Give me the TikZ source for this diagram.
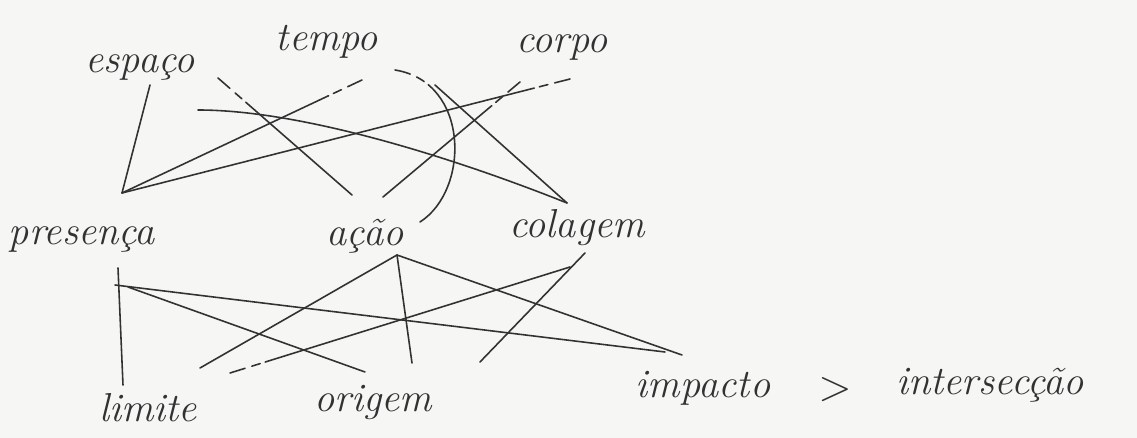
\documentclass[tikz,border=0pt]{standalone}
\usepackage{xcolor}
\usepackage{tikz}
\usetikzlibrary{calc}
\definecolor{paper}{RGB}{246,246,245}
\definecolor{ink}{RGB}{50,50,50}

\begin{document}
\begin{tikzpicture}[x=0.02cm, y=-0.02cm,
    word/.style={font=\fontsize{23}{27}\selectfont\itshape, text=ink, inner sep=0pt},
    pen/.style={ink, line width=0.9pt, line cap=round},
    pendash/.style={dash pattern=on 9pt off 4pt on 5pt off 3pt on 400pt}]
  \fill[paper] (0,0) rectangle (1137,438);
  \useasboundingbox (0,0) rectangle (1137,438);
  \node[word] (espaco)   at (140,68)  {espaço};
  \node[word] (tempo)    at (327,42)  {tempo};
  \node[word] (corpo)    at (562,48)  {corpo};
  \node[word] (presenca) at (82,240)  {presença};
  \node[word] (acao)     at (365,236) {ação};
  \node[word] (colagem)  at (577,228) {colagem};
  \node[word] (limite)   at (148,408) {limite};
  \node[word] (origem)   at (373,402) {origem};
  \node[word] (impacto)  at (703,388) {impacto};
  \node[word] (maior)    at (835,390) {$>$};
  \node[word] (intersec) at (990,385) {intersecção};
  \draw[pen] ($(espaco)+(10,17)$) -- ($(presenca)+(40,-47)$);
  \draw[pen, pendash] ($(espaco)+(78,10)$) -- ($(acao)+(-13,-41)$);
  \draw[pen] ($(espaco)+(58,42)$) .. controls +(110,0) and +(-100,-40) .. ($(colagem)+(-10,-25)$);
  \draw[pen, pendash] ($(tempo)+(35,38)$) -- ($(presenca)+(40,-47)$);
  \draw[pen, pendash] ($(tempo)+(68,28)$) .. controls +(75,12) and +(50,-32) .. ($(acao)+(55,-14)$);
  \draw[pen] ($(tempo)+(108,43)$) -- ($(colagem)+(-10,-25)$);
  \draw[pen, pendash] ($(corpo)+(8,31)$) -- ($(presenca)+(40,-47)$);
  \draw[pen, pendash] ($(corpo)+(-42,34)$) -- ($(acao)+(18,-39)$);
  \draw[pen] ($(presenca)+(36,28)$) -- ($(limite)+(-25,-23)$);
  \draw[pen] ($(presenca)+(33,45)$) -- ($(impacto)+(-38,-36)$);
  \draw[pen] ($(presenca)+(46,47)$) -- ($(origem)+(-8,-30)$);
  \draw[pen] ($(acao)+(32,19)$) -- ($(limite)+(52,-40)$);
  \draw[pen] ($(acao)+(32,19)$) -- ($(origem)+(39,-39)$);
  \draw[pen] ($(acao)+(32,19)$) -- ($(impacto)+(-21,-33)$);
  \draw[pen, pendash] ($(limite)+(82,-35)$) -- ($(colagem)+(-7,39)$);
  \draw[pen] ($(colagem)+(8,25)$) -- ($(origem)+(107,-40)$);
\end{tikzpicture}
\end{document}
